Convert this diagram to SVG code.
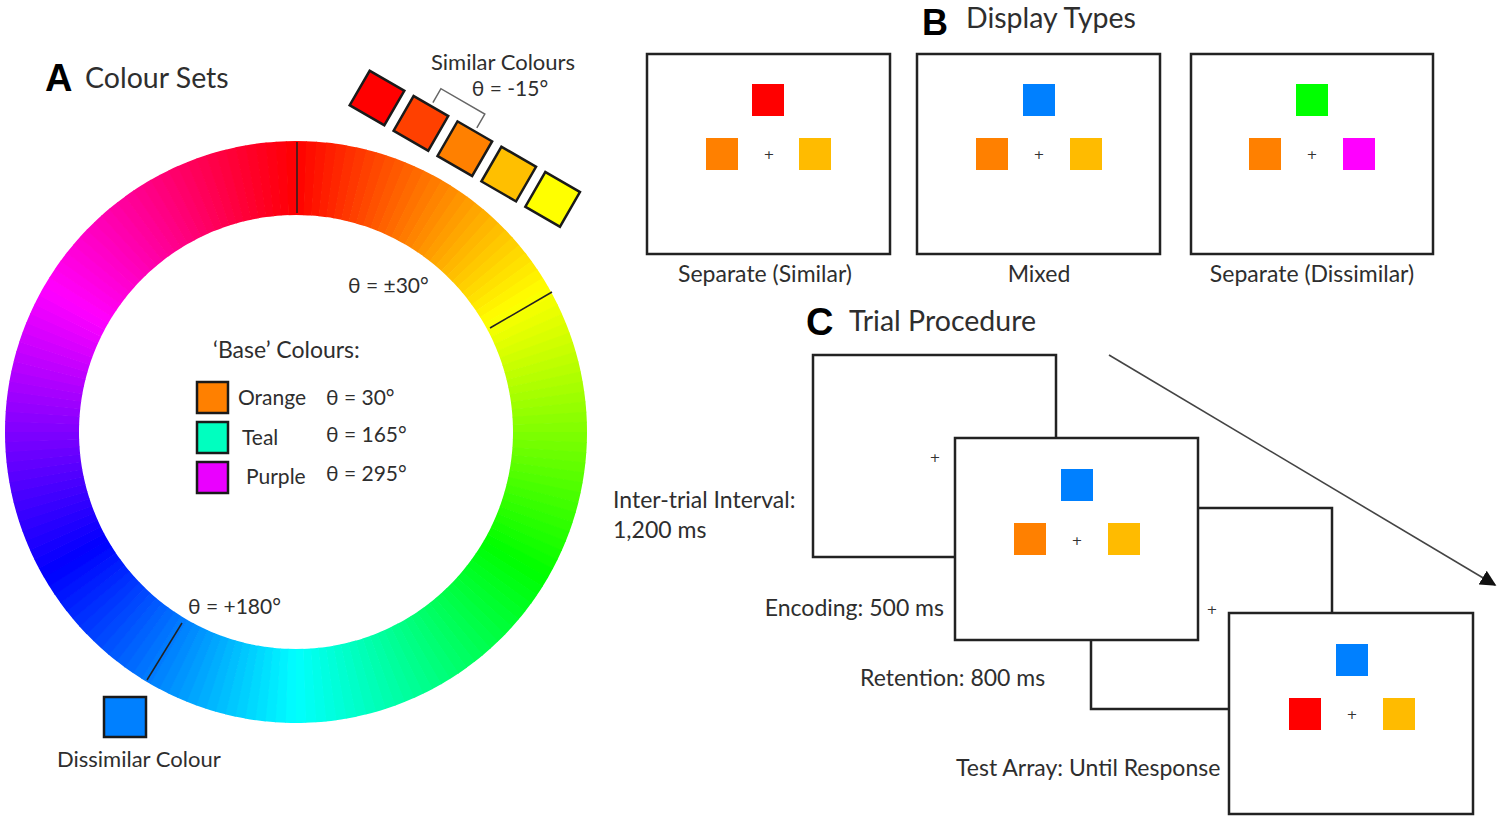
<svg xmlns="http://www.w3.org/2000/svg" xmlns:xlink="http://www.w3.org/1999/xlink" width="1499" height="820" viewBox="0 0 1499 820">
<style>
.t{font-family:Lato,"Noto Sans","DejaVu Sans",sans-serif;fill:#2e2e2e;font-size:23px}
.s21{font-size:21px}
.s22{font-size:22px}
.title{font-size:28.5px}
.big{font-family:"Liberation Sans",Arial,sans-serif;font-weight:bold;font-size:38px;fill:#000}
.frame{fill:#fff;stroke:#222;stroke-width:2.5}
.sw{stroke:#1a1a1a;stroke-width:2.5}
.tick{stroke:#222;stroke-width:1.5}
.plus{font-family:"DejaVu Sans",sans-serif;font-size:13px;fill:#333;text-anchor:middle}
</style>
<defs>
<circle id="s" r="254" fill="none" stroke-width="74" stroke-dasharray="9.6 2000"/>
<marker id="ah" viewBox="0 0 10 10" refX="9" refY="5" markerWidth="16" markerHeight="16" markerUnits="userSpaceOnUse" orient="auto">
<path d="M0,0 L10,5 L0,10 z" fill="#111"/>
</marker>
</defs>
<rect width="1499" height="820" fill="#fff"/>

<g id="colour-wheel">
<g transform="translate(296,432) rotate(-90)">
<use href="#s" transform="rotate(0)" stroke="hsl(1,100%,50%)"/><use href="#s" transform="rotate(2)" stroke="hsl(3,100%,50%)"/><use href="#s" transform="rotate(4)" stroke="hsl(5,100%,50%)"/><use href="#s" transform="rotate(6)" stroke="hsl(7,100%,50%)"/><use href="#s" transform="rotate(8)" stroke="hsl(9,100%,50%)"/>
<use href="#s" transform="rotate(10)" stroke="hsl(11,100%,50%)"/><use href="#s" transform="rotate(12)" stroke="hsl(13,100%,50%)"/><use href="#s" transform="rotate(14)" stroke="hsl(15,100%,50%)"/><use href="#s" transform="rotate(16)" stroke="hsl(17,100%,50%)"/><use href="#s" transform="rotate(18)" stroke="hsl(19,100%,50%)"/>
<use href="#s" transform="rotate(20)" stroke="hsl(21,100%,50%)"/><use href="#s" transform="rotate(22)" stroke="hsl(23,100%,50%)"/><use href="#s" transform="rotate(24)" stroke="hsl(25,100%,50%)"/><use href="#s" transform="rotate(26)" stroke="hsl(27,100%,50%)"/><use href="#s" transform="rotate(28)" stroke="hsl(29,100%,50%)"/>
<use href="#s" transform="rotate(30)" stroke="hsl(31,100%,50%)"/><use href="#s" transform="rotate(32)" stroke="hsl(33,100%,50%)"/><use href="#s" transform="rotate(34)" stroke="hsl(35,100%,50%)"/><use href="#s" transform="rotate(36)" stroke="hsl(37,100%,50%)"/><use href="#s" transform="rotate(38)" stroke="hsl(39,100%,50%)"/>
<use href="#s" transform="rotate(40)" stroke="hsl(41,100%,50%)"/><use href="#s" transform="rotate(42)" stroke="hsl(43,100%,50%)"/><use href="#s" transform="rotate(44)" stroke="hsl(45,100%,50%)"/><use href="#s" transform="rotate(46)" stroke="hsl(47,100%,50%)"/><use href="#s" transform="rotate(48)" stroke="hsl(49,100%,50%)"/>
<use href="#s" transform="rotate(50)" stroke="hsl(51,100%,50%)"/><use href="#s" transform="rotate(52)" stroke="hsl(53,100%,50%)"/><use href="#s" transform="rotate(54)" stroke="hsl(55,100%,50%)"/><use href="#s" transform="rotate(56)" stroke="hsl(57,100%,50%)"/><use href="#s" transform="rotate(58)" stroke="hsl(59,100%,50%)"/>
<use href="#s" transform="rotate(60)" stroke="hsl(61,100%,50%)"/><use href="#s" transform="rotate(62)" stroke="hsl(63,100%,50%)"/><use href="#s" transform="rotate(64)" stroke="hsl(65,100%,50%)"/><use href="#s" transform="rotate(66)" stroke="hsl(67,100%,50%)"/><use href="#s" transform="rotate(68)" stroke="hsl(69,100%,50%)"/>
<use href="#s" transform="rotate(70)" stroke="hsl(71,100%,50%)"/><use href="#s" transform="rotate(72)" stroke="hsl(73,100%,50%)"/><use href="#s" transform="rotate(74)" stroke="hsl(75,100%,50%)"/><use href="#s" transform="rotate(76)" stroke="hsl(77,100%,50%)"/><use href="#s" transform="rotate(78)" stroke="hsl(79,100%,50%)"/>
<use href="#s" transform="rotate(80)" stroke="hsl(81,100%,50%)"/><use href="#s" transform="rotate(82)" stroke="hsl(83,100%,50%)"/><use href="#s" transform="rotate(84)" stroke="hsl(85,100%,50%)"/><use href="#s" transform="rotate(86)" stroke="hsl(87,100%,50%)"/><use href="#s" transform="rotate(88)" stroke="hsl(89,100%,50%)"/>
<use href="#s" transform="rotate(90)" stroke="hsl(91,100%,50%)"/><use href="#s" transform="rotate(92)" stroke="hsl(93,100%,50%)"/><use href="#s" transform="rotate(94)" stroke="hsl(95,100%,50%)"/><use href="#s" transform="rotate(96)" stroke="hsl(97,100%,50%)"/><use href="#s" transform="rotate(98)" stroke="hsl(99,100%,50%)"/>
<use href="#s" transform="rotate(100)" stroke="hsl(101,100%,50%)"/><use href="#s" transform="rotate(102)" stroke="hsl(103,100%,50%)"/><use href="#s" transform="rotate(104)" stroke="hsl(105,100%,50%)"/><use href="#s" transform="rotate(106)" stroke="hsl(107,100%,50%)"/><use href="#s" transform="rotate(108)" stroke="hsl(109,100%,50%)"/>
<use href="#s" transform="rotate(110)" stroke="hsl(111,100%,50%)"/><use href="#s" transform="rotate(112)" stroke="hsl(113,100%,50%)"/><use href="#s" transform="rotate(114)" stroke="hsl(115,100%,50%)"/><use href="#s" transform="rotate(116)" stroke="hsl(117,100%,50%)"/><use href="#s" transform="rotate(118)" stroke="hsl(119,100%,50%)"/>
<use href="#s" transform="rotate(120)" stroke="hsl(121,100%,50%)"/><use href="#s" transform="rotate(122)" stroke="hsl(123,100%,50%)"/><use href="#s" transform="rotate(124)" stroke="hsl(125,100%,50%)"/><use href="#s" transform="rotate(126)" stroke="hsl(127,100%,50%)"/><use href="#s" transform="rotate(128)" stroke="hsl(129,100%,50%)"/>
<use href="#s" transform="rotate(130)" stroke="hsl(131,100%,50%)"/><use href="#s" transform="rotate(132)" stroke="hsl(133,100%,50%)"/><use href="#s" transform="rotate(134)" stroke="hsl(135,100%,50%)"/><use href="#s" transform="rotate(136)" stroke="hsl(137,100%,50%)"/><use href="#s" transform="rotate(138)" stroke="hsl(139,100%,50%)"/>
<use href="#s" transform="rotate(140)" stroke="hsl(141,100%,50%)"/><use href="#s" transform="rotate(142)" stroke="hsl(143,100%,50%)"/><use href="#s" transform="rotate(144)" stroke="hsl(145,100%,50%)"/><use href="#s" transform="rotate(146)" stroke="hsl(147,100%,50%)"/><use href="#s" transform="rotate(148)" stroke="hsl(149,100%,50%)"/>
<use href="#s" transform="rotate(150)" stroke="hsl(151,100%,50%)"/><use href="#s" transform="rotate(152)" stroke="hsl(153,100%,50%)"/><use href="#s" transform="rotate(154)" stroke="hsl(155,100%,50%)"/><use href="#s" transform="rotate(156)" stroke="hsl(157,100%,50%)"/><use href="#s" transform="rotate(158)" stroke="hsl(159,100%,50%)"/>
<use href="#s" transform="rotate(160)" stroke="hsl(161,100%,50%)"/><use href="#s" transform="rotate(162)" stroke="hsl(163,100%,50%)"/><use href="#s" transform="rotate(164)" stroke="hsl(165,100%,50%)"/><use href="#s" transform="rotate(166)" stroke="hsl(167,100%,50%)"/><use href="#s" transform="rotate(168)" stroke="hsl(169,100%,50%)"/>
<use href="#s" transform="rotate(170)" stroke="hsl(171,100%,50%)"/><use href="#s" transform="rotate(172)" stroke="hsl(173,100%,50%)"/><use href="#s" transform="rotate(174)" stroke="hsl(175,100%,50%)"/><use href="#s" transform="rotate(176)" stroke="hsl(177,100%,50%)"/><use href="#s" transform="rotate(178)" stroke="hsl(179,100%,50%)"/>
<use href="#s" transform="rotate(180)" stroke="hsl(181,100%,50%)"/><use href="#s" transform="rotate(182)" stroke="hsl(183,100%,50%)"/><use href="#s" transform="rotate(184)" stroke="hsl(185,100%,50%)"/><use href="#s" transform="rotate(186)" stroke="hsl(187,100%,50%)"/><use href="#s" transform="rotate(188)" stroke="hsl(189,100%,50%)"/>
<use href="#s" transform="rotate(190)" stroke="hsl(191,100%,50%)"/><use href="#s" transform="rotate(192)" stroke="hsl(193,100%,50%)"/><use href="#s" transform="rotate(194)" stroke="hsl(195,100%,50%)"/><use href="#s" transform="rotate(196)" stroke="hsl(197,100%,50%)"/><use href="#s" transform="rotate(198)" stroke="hsl(199,100%,50%)"/>
<use href="#s" transform="rotate(200)" stroke="hsl(201,100%,50%)"/><use href="#s" transform="rotate(202)" stroke="hsl(203,100%,50%)"/><use href="#s" transform="rotate(204)" stroke="hsl(205,100%,50%)"/><use href="#s" transform="rotate(206)" stroke="hsl(207,100%,50%)"/><use href="#s" transform="rotate(208)" stroke="hsl(209,100%,50%)"/>
<use href="#s" transform="rotate(210)" stroke="hsl(211,100%,50%)"/><use href="#s" transform="rotate(212)" stroke="hsl(213,100%,50%)"/><use href="#s" transform="rotate(214)" stroke="hsl(215,100%,50%)"/><use href="#s" transform="rotate(216)" stroke="hsl(217,100%,50%)"/><use href="#s" transform="rotate(218)" stroke="hsl(219,100%,50%)"/>
<use href="#s" transform="rotate(220)" stroke="hsl(221,100%,50%)"/><use href="#s" transform="rotate(222)" stroke="hsl(223,100%,50%)"/><use href="#s" transform="rotate(224)" stroke="hsl(225,100%,50%)"/><use href="#s" transform="rotate(226)" stroke="hsl(227,100%,50%)"/><use href="#s" transform="rotate(228)" stroke="hsl(229,100%,50%)"/>
<use href="#s" transform="rotate(230)" stroke="hsl(231,100%,50%)"/><use href="#s" transform="rotate(232)" stroke="hsl(233,100%,50%)"/><use href="#s" transform="rotate(234)" stroke="hsl(235,100%,50%)"/><use href="#s" transform="rotate(236)" stroke="hsl(237,100%,50%)"/><use href="#s" transform="rotate(238)" stroke="hsl(239,100%,50%)"/>
<use href="#s" transform="rotate(240)" stroke="hsl(241,100%,50%)"/><use href="#s" transform="rotate(242)" stroke="hsl(243,100%,50%)"/><use href="#s" transform="rotate(244)" stroke="hsl(245,100%,50%)"/><use href="#s" transform="rotate(246)" stroke="hsl(247,100%,50%)"/><use href="#s" transform="rotate(248)" stroke="hsl(249,100%,50%)"/>
<use href="#s" transform="rotate(250)" stroke="hsl(251,100%,50%)"/><use href="#s" transform="rotate(252)" stroke="hsl(253,100%,50%)"/><use href="#s" transform="rotate(254)" stroke="hsl(255,100%,50%)"/><use href="#s" transform="rotate(256)" stroke="hsl(257,100%,50%)"/><use href="#s" transform="rotate(258)" stroke="hsl(259,100%,50%)"/>
<use href="#s" transform="rotate(260)" stroke="hsl(261,100%,50%)"/><use href="#s" transform="rotate(262)" stroke="hsl(263,100%,50%)"/><use href="#s" transform="rotate(264)" stroke="hsl(265,100%,50%)"/><use href="#s" transform="rotate(266)" stroke="hsl(267,100%,50%)"/><use href="#s" transform="rotate(268)" stroke="hsl(269,100%,50%)"/>
<use href="#s" transform="rotate(270)" stroke="hsl(271,100%,50%)"/><use href="#s" transform="rotate(272)" stroke="hsl(273,100%,50%)"/><use href="#s" transform="rotate(274)" stroke="hsl(275,100%,50%)"/><use href="#s" transform="rotate(276)" stroke="hsl(277,100%,50%)"/><use href="#s" transform="rotate(278)" stroke="hsl(279,100%,50%)"/>
<use href="#s" transform="rotate(280)" stroke="hsl(281,100%,50%)"/><use href="#s" transform="rotate(282)" stroke="hsl(283,100%,50%)"/><use href="#s" transform="rotate(284)" stroke="hsl(285,100%,50%)"/><use href="#s" transform="rotate(286)" stroke="hsl(287,100%,50%)"/><use href="#s" transform="rotate(288)" stroke="hsl(289,100%,50%)"/>
<use href="#s" transform="rotate(290)" stroke="hsl(291,100%,50%)"/><use href="#s" transform="rotate(292)" stroke="hsl(293,100%,50%)"/><use href="#s" transform="rotate(294)" stroke="hsl(295,100%,50%)"/><use href="#s" transform="rotate(296)" stroke="hsl(297,100%,50%)"/><use href="#s" transform="rotate(298)" stroke="hsl(299,100%,50%)"/>
<use href="#s" transform="rotate(300)" stroke="hsl(301,100%,50%)"/><use href="#s" transform="rotate(302)" stroke="hsl(303,100%,50%)"/><use href="#s" transform="rotate(304)" stroke="hsl(305,100%,50%)"/><use href="#s" transform="rotate(306)" stroke="hsl(307,100%,50%)"/><use href="#s" transform="rotate(308)" stroke="hsl(309,100%,50%)"/>
<use href="#s" transform="rotate(310)" stroke="hsl(311,100%,50%)"/><use href="#s" transform="rotate(312)" stroke="hsl(313,100%,50%)"/><use href="#s" transform="rotate(314)" stroke="hsl(315,100%,50%)"/><use href="#s" transform="rotate(316)" stroke="hsl(317,100%,50%)"/><use href="#s" transform="rotate(318)" stroke="hsl(319,100%,50%)"/>
<use href="#s" transform="rotate(320)" stroke="hsl(321,100%,50%)"/><use href="#s" transform="rotate(322)" stroke="hsl(323,100%,50%)"/><use href="#s" transform="rotate(324)" stroke="hsl(325,100%,50%)"/><use href="#s" transform="rotate(326)" stroke="hsl(327,100%,50%)"/><use href="#s" transform="rotate(328)" stroke="hsl(329,100%,50%)"/>
<use href="#s" transform="rotate(330)" stroke="hsl(331,100%,50%)"/><use href="#s" transform="rotate(332)" stroke="hsl(333,100%,50%)"/><use href="#s" transform="rotate(334)" stroke="hsl(335,100%,50%)"/><use href="#s" transform="rotate(336)" stroke="hsl(337,100%,50%)"/><use href="#s" transform="rotate(338)" stroke="hsl(339,100%,50%)"/>
<use href="#s" transform="rotate(340)" stroke="hsl(341,100%,50%)"/><use href="#s" transform="rotate(342)" stroke="hsl(343,100%,50%)"/><use href="#s" transform="rotate(344)" stroke="hsl(345,100%,50%)"/><use href="#s" transform="rotate(346)" stroke="hsl(347,100%,50%)"/><use href="#s" transform="rotate(348)" stroke="hsl(349,100%,50%)"/>
<use href="#s" transform="rotate(350)" stroke="hsl(351,100%,50%)"/><use href="#s" transform="rotate(352)" stroke="hsl(353,100%,50%)"/><use href="#s" transform="rotate(354)" stroke="hsl(355,100%,50%)"/><use href="#s" transform="rotate(356)" stroke="hsl(357,100%,50%)"/><use href="#s" transform="rotate(358)" stroke="hsl(359,100%,50%)"/>
</g>
<line class="tick" x1="297" y1="142" x2="297" y2="213"/>
<line class="tick" x1="490" y1="328" x2="552" y2="292"/>
<line class="tick" x1="147" y1="680" x2="182" y2="623"/>
<text class="t s21" x="348" y="293">θ = ±30°</text>
<text class="t s21" x="188" y="614">θ = +180°</text>
</g>

<g id="title-a">
<text class="big" x="45" y="91">A</text>
<text class="t title" x="85" y="88">Colour Sets</text>
</g>

<g id="similar-colours">
<text class="t s22" x="503" y="70" text-anchor="middle">Similar Colours</text>
<text class="t s21" x="510" y="96" text-anchor="middle">θ = -15°</text>
<g transform="translate(377,98) rotate(30)">
<rect class="sw" x="-20" y="-20" width="40" height="40" fill="#ff0000"/>
<rect class="sw" x="30.7" y="-20" width="40" height="40" fill="#ff4000"/>
<rect class="sw" x="81.4" y="-20" width="40" height="40" fill="#ff8000"/>
<rect class="sw" x="132.1" y="-20" width="40" height="40" fill="#ffbf00"/>
<rect class="sw" x="182.8" y="-20" width="40" height="40" fill="#ffff00"/>
<path d="M50.7,-24 V-40 H101.4 V-24" fill="none" stroke="#666" stroke-width="1.5"/>
</g>
</g>

<g id="base-colours">
<text class="t" x="213" y="358">‘Base’ Colours:</text>
<rect class="sw" x="197" y="382" width="31" height="31" fill="#ff8000"/>
<rect class="sw" x="197" y="422" width="31" height="31" fill="#00ffbf"/>
<rect class="sw" x="197" y="462" width="31" height="31" fill="#ea00ff"/>
<text class="t s21" x="238" y="405">Orange</text>
<text class="t s21" x="242" y="445">Teal</text>
<text class="t s21" x="246" y="484">Purple</text>
<text class="t s21" x="326" y="405">θ = 30°</text>
<text class="t s21" x="326" y="442">θ = 165°</text>
<text class="t s21" x="326" y="481">θ = 295°</text>
</g>

<g id="dissimilar-colour">
<rect class="sw" x="104" y="697" width="42" height="40" fill="#0080ff"/>
<text class="t s22" x="57" y="767">Dissimilar Colour</text>
</g>

<g id="title-b">
<text class="big" x="922" y="35" style="font-size:36px">B</text>
<text class="t title" x="966" y="28">Display Types</text>
</g>

<g id="display-similar">
<rect class="frame" x="647" y="54" width="243" height="200"/>
<rect x="752" y="84" width="32" height="32" fill="#ff0000"/>
<rect x="706" y="138" width="32" height="32" fill="#ff8000"/>
<rect x="799" y="138" width="32" height="32" fill="#ffbb00"/>
<text class="plus" x="769" y="159">+</text>
<text class="t" x="765" y="282" text-anchor="middle">Separate (Similar)</text>
</g>

<g id="display-mixed">
<rect class="frame" x="917" y="54" width="243" height="200"/>
<rect x="1023" y="84" width="32" height="32" fill="#0080ff"/>
<rect x="976" y="138" width="32" height="32" fill="#ff8000"/>
<rect x="1070" y="138" width="32" height="32" fill="#ffbb00"/>
<text class="plus" x="1039" y="159">+</text>
<text class="t" x="1039" y="282" text-anchor="middle">Mixed</text>
</g>

<g id="display-dissimilar">
<rect class="frame" x="1191" y="54" width="242" height="200"/>
<rect x="1296" y="84" width="32" height="32" fill="#00ff00"/>
<rect x="1249" y="138" width="32" height="32" fill="#ff8000"/>
<rect x="1343" y="138" width="32" height="32" fill="#ff00ff"/>
<text class="plus" x="1312" y="159">+</text>
<text class="t" x="1312" y="282" text-anchor="middle">Separate (Dissimilar)</text>
</g>

<g id="title-c">
<text class="big" x="806" y="335">C</text>
<text class="t title" x="849" y="331">Trial Procedure</text>
</g>

<g id="trial-iti">
<rect class="frame" x="813" y="355" width="243" height="202"/>
<text class="plus" x="935" y="462">+</text>
<text class="t" x="613" y="508">Inter-trial Interval:</text>
<text class="t" x="613" y="538">1,200 ms</text>
</g>

<g id="trial-retention">
<rect class="frame" x="1091" y="508" width="241" height="201"/>
<text class="plus" x="1212" y="614">+</text>
<text class="t" x="860" y="686">Retention: 800 ms</text>
</g>

<g id="trial-encoding">
<rect class="frame" x="955" y="438" width="243" height="202"/>
<rect x="1061" y="469" width="32" height="32" fill="#0080ff"/>
<rect x="1014" y="523" width="32" height="32" fill="#ff8000"/>
<rect x="1108" y="523" width="32" height="32" fill="#ffbb00"/>
<text class="plus" x="1077" y="545">+</text>
<text class="t" x="944" y="616" text-anchor="end">Encoding: 500 ms</text>
</g>

<g id="trial-test">
<rect class="frame" x="1229" y="613" width="244" height="201"/>
<rect x="1336" y="644" width="32" height="32" fill="#0080ff"/>
<rect x="1289" y="698" width="32" height="32" fill="#ff0000"/>
<rect x="1383" y="698" width="32" height="32" fill="#ffbb00"/>
<text class="plus" x="1352" y="719">+</text>
<text class="t" x="956" y="776">Test Array: Until Response</text>
</g>

<g id="connectors">
<line x1="1109" y1="355" x2="1495" y2="585" stroke="#444" stroke-width="1.6" marker-end="url(#ah)"/>
</g>
</svg>
